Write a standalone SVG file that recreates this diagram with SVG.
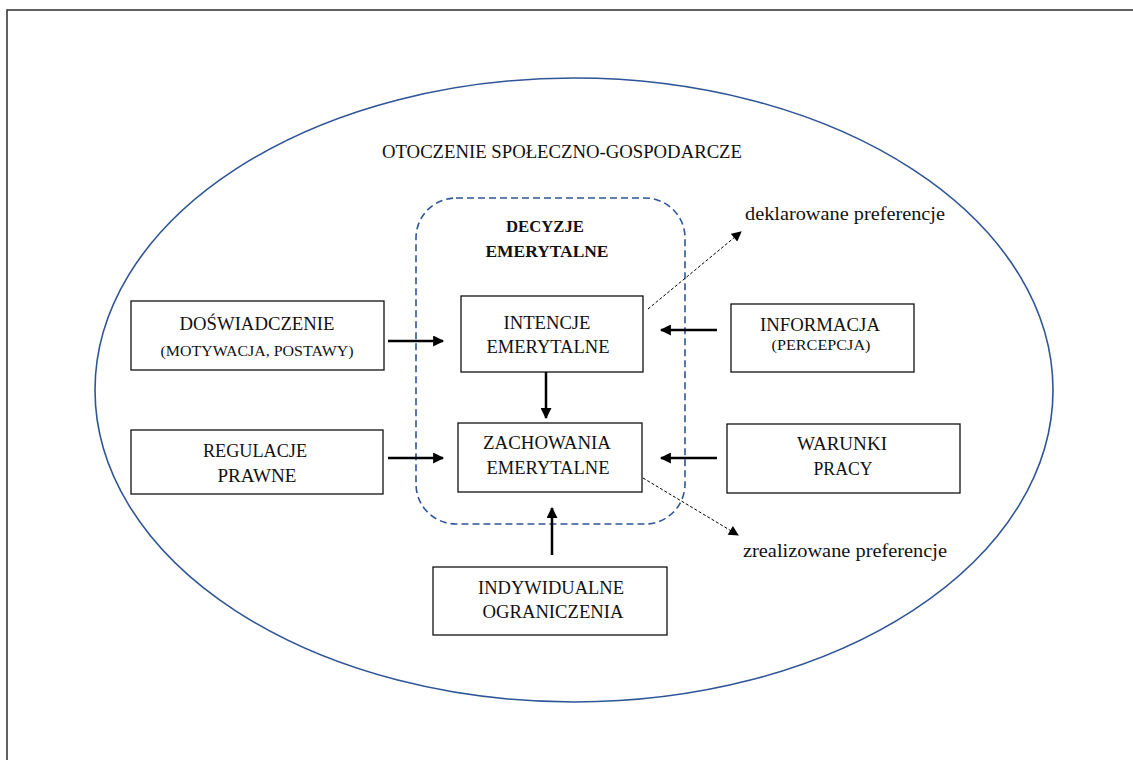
<svg xmlns="http://www.w3.org/2000/svg" width="1133" height="760" viewBox="0 0 1133 760">
<defs>
<style>
.t{font-family:"Liberation Serif","Times New Roman",serif;font-size:18px;fill:#111;text-anchor:middle}
.s{font-size:15px}
.b{font-weight:bold;font-size:17px}
.box{fill:#fff;stroke:#111;stroke-width:1.3}
.arr{stroke:#000;stroke-width:2.5;fill:none;marker-end:url(#ah)}
.dot{stroke:#000;stroke-width:1;stroke-dasharray:3 2;fill:none;marker-end:url(#ahs)}
</style>
<marker id="ah" viewBox="0 0 10 10" refX="9" refY="5" markerWidth="5" markerHeight="4.4" orient="auto" markerUnits="strokeWidth">
<path d="M0,0 L10,5 L0,10 Z" fill="#000"/>
</marker>
<marker id="ahs" viewBox="0 0 10 10" refX="9" refY="5" markerWidth="11" markerHeight="10" orient="auto" markerUnits="strokeWidth">
<path d="M0,0 L10,5 L0,10 Z" fill="#000"/>
</marker>
</defs>
<rect x="0" y="0" width="1133" height="760" fill="#fff"/>
<rect x="7" y="10" width="1150" height="800" fill="none" stroke="#3a3a3a" stroke-width="1.6"/>
<g id="environment">
<ellipse cx="574" cy="390" rx="479" ry="312" fill="none" stroke="#2f5597" stroke-width="1.6"/>
<text class="t" x="562" y="158" textLength="360" lengthAdjust="spacingAndGlyphs">OTOCZENIE SPOŁECZNO-GOSPODARCZE</text>
</g>
<g id="decisions">
<rect x="416" y="198" width="269" height="326" rx="40" ry="40" fill="none" stroke="#2f5597" stroke-width="1.6" stroke-dasharray="7 4"/>
<text class="t b" x="545" y="232" textLength="78" lengthAdjust="spacingAndGlyphs">DECYZJE</text>
<text class="t b" x="547" y="257" textLength="123" lengthAdjust="spacingAndGlyphs">EMERYTALNE</text>
</g>
<g id="doswiadczenie">
<rect class="box" x="131" y="301" width="253" height="69"/>
<text class="t" x="257" y="330" textLength="155" lengthAdjust="spacingAndGlyphs">DOŚWIADCZENIE</text>
<text class="t s" x="257" y="356" textLength="193" lengthAdjust="spacingAndGlyphs">(MOTYWACJA, POSTAWY)</text>
</g>
<g id="regulacje">
<rect class="box" x="131" y="430" width="252" height="64"/>
<text class="t" x="255" y="457" textLength="104" lengthAdjust="spacingAndGlyphs">REGULACJE</text>
<text class="t" x="257" y="482" textLength="79" lengthAdjust="spacingAndGlyphs">PRAWNE</text>
</g>
<g id="intencje">
<rect class="box" x="461" y="296" width="182" height="76"/>
<text class="t" x="547" y="329" textLength="87" lengthAdjust="spacingAndGlyphs">INTENCJE</text>
<text class="t" x="548" y="353" textLength="123" lengthAdjust="spacingAndGlyphs">EMERYTALNE</text>
</g>
<g id="zachowania">
<rect class="box" x="458" y="423" width="184" height="69"/>
<text class="t" x="547" y="449" textLength="128" lengthAdjust="spacingAndGlyphs">ZACHOWANIA</text>
<text class="t" x="548" y="474" textLength="123" lengthAdjust="spacingAndGlyphs">EMERYTALNE</text>
</g>
<g id="informacja">
<rect class="box" x="731" y="304" width="183" height="68"/>
<text class="t" x="820" y="331" textLength="120" lengthAdjust="spacingAndGlyphs">INFORMACJA</text>
<text class="t s" x="821" y="350" textLength="99" lengthAdjust="spacingAndGlyphs">(PERCEPCJA)</text>
</g>
<g id="warunki">
<rect class="box" x="727" y="424" width="233" height="69"/>
<text class="t" x="842" y="450" textLength="90" lengthAdjust="spacingAndGlyphs">WARUNKI</text>
<text class="t" x="843" y="475" textLength="59" lengthAdjust="spacingAndGlyphs">PRACY</text>
</g>
<g id="ograniczenia">
<rect class="box" x="433" y="567" width="234" height="68"/>
<text class="t" x="551" y="594" textLength="146" lengthAdjust="spacingAndGlyphs">INDYWIDUALNE</text>
<text class="t" x="553" y="618" textLength="141" lengthAdjust="spacingAndGlyphs">OGRANICZENIA</text>
</g>
<g id="labels">
<text class="t" x="845" y="220" textLength="200" lengthAdjust="spacingAndGlyphs">deklarowane preferencje</text>
<text class="t" x="845" y="557" textLength="204" lengthAdjust="spacingAndGlyphs">zrealizowane preferencje</text>
</g>
<g id="connectors">
<line class="arr" x1="388" y1="341" x2="443" y2="341"/>
<line class="arr" x1="388" y1="458" x2="443" y2="458"/>
<line class="arr" x1="546" y1="372" x2="546" y2="418"/>
<line class="arr" x1="717" y1="330" x2="661" y2="330"/>
<line class="arr" x1="717" y1="458" x2="661" y2="458"/>
<line class="arr" x1="552" y1="555" x2="552" y2="508"/>
<line class="dot" x1="648" y1="309" x2="741" y2="232"/>
<line class="dot" x1="643" y1="478" x2="738" y2="535"/>
</g>
</svg>
